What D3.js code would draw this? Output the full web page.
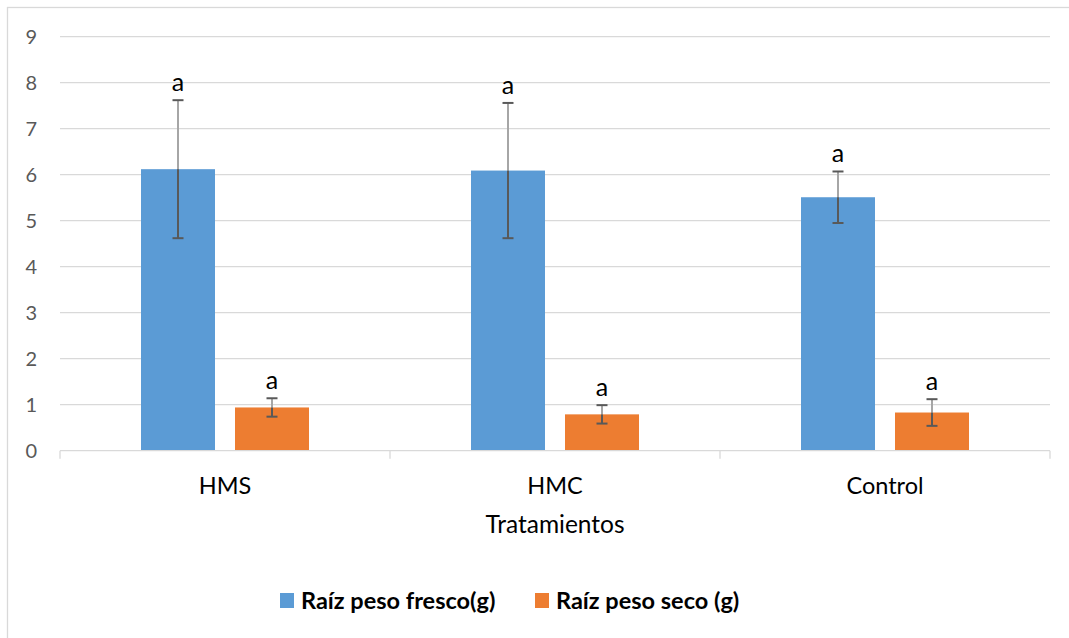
<!DOCTYPE html>
<html>
<head>
<meta charset="utf-8">
<script src="https://cdn.jsdelivr.net/npm/d3@7"></script>
<style>
  body { margin: 0; background: #fff; }
  svg text { font-family: Lato, "Open Sans", sans-serif; }
</style>
</head>
<body>
<div id="chart"></div>
<script>
// Data
var categories = ["HMS", "HMC", "Control"];
var seriesNames = ["Raíz peso fresco(g)", "Raíz peso seco (g)"];
var freshValues = [6.12, 6.09, 5.51];
var freshErrors = [1.50, 1.47, 0.56];
var dryValues = [0.94, 0.79, 0.83];
var dryErrors = [0.20, 0.20, 0.29];
var letters = [["a", "a"], ["a", "a"], ["a", "a"]];
var yTicks = [0, 1, 2, 3, 4, 5, 6, 7, 8, 9];
var xTitle = "Tratamientos";

var colors = {"Raíz peso fresco(g)": "#5b9bd5", "Raíz peso seco (g)": "#ed7d31"};

var width = 1069, height = 638;
var plot = {left: 60, right: 1050, top: 36.7, bottom: 450.7};

var svg = d3.select("#chart").append("svg")
    .attr("width", width)
    .attr("height", height);

// chart area border (only top/left visible in the reference)
svg.append("rect")
    .attr("x", 7.5).attr("y", 7.5)
    .attr("width", 1100).attr("height", 700)
    .attr("fill", "none")
    .attr("stroke", "#d9d9d9")
    .attr("stroke-width", 1.3);

// build rows for the bars
var rows = categories.map(function (c, i) {
    return {
        category: c,
        bars: [
            {key: seriesNames[0], value: freshValues[i], err: freshErrors[i], letter: letters[i][0]},
            {key: seriesNames[1], value: dryValues[i], err: dryErrors[i], letter: letters[i][1]}
        ]
    };
});

var y = d3.scaleLinear()
    .domain([0, 9])
    .range([plot.bottom, plot.top]);

var x0 = d3.scaleBand()
    .domain(categories)
    .range([plot.left, plot.right])
    .paddingInner(0)
    .paddingOuter(0);

var x1 = d3.scaleBand()
    .domain(seriesNames)
    .range([0, x0.bandwidth()])
    .paddingInner(0.2128)
    .paddingOuter(0.8617);

// gridlines
svg.append("g")
    .attr("class", "grid")
    .selectAll("line")
    .data(yTicks.filter(function (d) { return d > 0; }))
    .enter().append("line")
    .attr("x1", plot.left).attr("x2", plot.right)
    .attr("y1", function (d) { return y(d); })
    .attr("y2", function (d) { return y(d); })
    .attr("stroke", "#d9d9d9")
    .attr("stroke-width", 1.3);

// y axis labels
var yAxis = svg.append("g")
    .attr("class", "y_axis")
    .attr("transform", "translate(" + (plot.left - 23) + ",0)")
    .call(d3.axisLeft(y).tickValues(yTicks).tickSize(0).tickPadding(0));
yAxis.select(".domain").remove();
yAxis.selectAll("text")
    .style("font-size", "20px")
    .attr("fill", "#595959")
    .attr("dy", "0.36em");

// bars
var groups = svg.selectAll(".cat")
    .data(rows)
    .enter().append("g")
    .attr("class", "cat")
    .attr("transform", function (d) { return "translate(" + x0(d.category) + ",0)"; });

groups.selectAll("rect")
    .data(function (d) { return d.bars; })
    .enter().append("rect")
    .attr("x", function (d) { return x1(d.key); })
    .attr("y", function (d) { return y(d.value); })
    .attr("width", x1.bandwidth())
    .attr("height", function (d) { return y(0) - y(d.value); })
    .attr("fill", function (d) { return colors[d.key]; });

// error bars
var err = groups.selectAll(".err")
    .data(function (d) { return d.bars; })
    .enter().append("g")
    .attr("class", "err")
    .attr("transform", function (d) { return "translate(" + (x1(d.key) + x1.bandwidth() / 2) + ",0)"; });

err.append("line")
    .attr("y1", function (d) { return y(d.value + d.err); })
    .attr("y2", function (d) { return y(d.value); })
    .attr("stroke", "#a6a6a6")
    .attr("stroke-width", 2);

err.append("line")
    .attr("y1", function (d) { return y(d.value); })
    .attr("y2", function (d) { return y(d.value - d.err); })
    .attr("stroke", "#595959")
    .attr("stroke-width", 2);

err.selectAll(".cap")
    .data(function (d) { return [d.value + d.err, d.value - d.err]; })
    .enter().append("line")
    .attr("class", "cap")
    .attr("x1", -5.5).attr("x2", 5.5)
    .attr("y1", function (v) { return y(v); })
    .attr("y2", function (v) { return y(v); })
    .attr("stroke", "#595959")
    .attr("stroke-width", 2);

// significance letters
err.append("text")
    .text(function (d) { return d.letter; })
    .attr("y", function (d) { return y(d.value + d.err) - 9; })
    .attr("text-anchor", "middle")
    .style("font-size", "25px")
    .attr("fill", "#000");

// x axis
var xAxis = svg.append("g")
    .attr("class", "x_axis")
    .attr("transform", "translate(0," + plot.bottom + ")");

xAxis.append("line")
    .attr("x1", plot.left).attr("x2", plot.right)
    .attr("stroke", "#d9d9d9")
    .attr("stroke-width", 1.3);

xAxis.selectAll(".tick")
    .data(x0.range().concat(categories.slice(1).map(function (c) { return x0(c); })))
    .enter().append("line")
    .attr("x1", function (d) { return d; })
    .attr("x2", function (d) { return d; })
    .attr("y1", 0).attr("y2", 8)
    .attr("stroke", "#d9d9d9")
    .attr("stroke-width", 1.3);

xAxis.selectAll(".catlabel")
    .data(categories)
    .enter().append("text")
    .attr("class", "catlabel")
    .attr("x", function (d) { return x0(d) + x0.bandwidth() / 2; })
    .attr("y", 43)
    .attr("text-anchor", "middle")
    .style("font-size", "23.5px")
    .attr("fill", "#000")
    .text(function (d) { return d; });

svg.append("text")
    .attr("class", "x_axis_label")
    .attr("x", (plot.left + plot.right) / 2)
    .attr("y", 533)
    .attr("text-anchor", "middle")
    .style("font-size", "24.5px")
    .attr("fill", "#000")
    .text(xTitle);

// legend
var legendX = [280, 535];
var legend = svg.selectAll(".legend")
    .data(seriesNames)
    .enter().append("g")
    .attr("class", "legend")
    .attr("transform", function (d, i) { return "translate(" + legendX[i] + ",593)"; });

legend.append("rect")
    .attr("width", 14).attr("height", 15)
    .attr("fill", function (d) { return colors[d]; });

legend.append("text")
    .attr("x", 21)
    .attr("y", 16)
    .style("font-size", "23.5px")
    .style("font-weight", "bold")
    .attr("fill", "#000")
    .text(function (d) { return d; });
</script>
</body>
</html>
